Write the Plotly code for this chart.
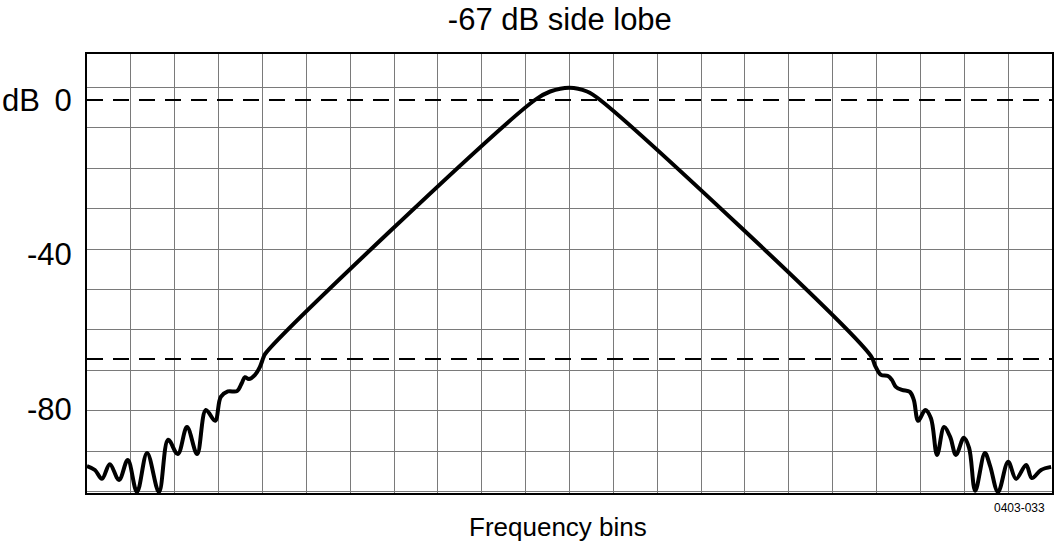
import plotly.graph_objects as go

# Frequency bins (x) and level in dB (y)
bins = [-11.0, -10.82, -10.66, -10.48, -10.27, -10.07, -9.86, -9.63, -9.36, -9.15,
        -8.93, -8.72, -8.49, -8.29, -8.08, -7.95, -7.79, -7.58, -7.47, -7.40,
        -7.31, -7.17, -7.06, -6.98, -6.94,
        -0.79, -0.44, 0.0, 0.40, 0.70,
        6.87, 6.97, 7.10, 7.26, 7.35, 7.44, 7.58, 7.76, 7.85, 7.95,
        8.11, 8.24, 8.38, 8.54, 8.68, 8.81, 8.99, 9.11, 9.25, 9.47,
        9.59, 9.77, 10.00, 10.18, 10.41, 10.54, 10.75, 10.98]
level_db = [-94.7, -95.7, -98.0, -94.2, -98.3, -93.1, -101.4, -91.3, -101.4, -87.9,
            -91.6, -84.6, -91.6, -80.2, -83.0, -76.8, -75.4, -75.3, -73.2, -71.7,
            -72.2, -71.1, -69.1, -66.7, -65.7,
            0.0, 2.2, 3.2, 2.2, 0.0,
            -66.2, -68.8, -71.1, -71.4, -72.4, -74.2, -75.0, -75.5, -77.6, -83.0,
            -80.2, -82.3, -91.8, -84.6, -87.2, -91.8, -87.4, -90.0, -101.1, -91.3,
            -94.7, -101.4, -93.6, -98.0, -94.4, -97.8, -95.7, -94.9]

ref_levels = [0, -67]          # dashed reference lines (dB)
tick_vals = [0, -40, -80]
tick_text = ["0", "-40", "-80"]

FONT = "Liberation Sans, Arial, sans-serif"

fig = go.Figure()
fig.add_trace(go.Scatter(
    x=bins, y=level_db, mode="lines",
    line=dict(color="black", width=4, shape="spline", smoothing=1.0),
    hoverinfo="skip", showlegend=False))

for lv in ref_levels:
    fig.add_shape(type="line", xref="paper", x0=0, x1=1, yref="y", y0=lv, y1=lv,
                  line=dict(color="black", width=2, dash="16px,10px"), layer="above")

fig.update_layout(
    width=1054, height=552,
    margin=dict(l=87, r=2, t=54, b=59, autoexpand=False),
    paper_bgcolor="white", plot_bgcolor="white",
    font=dict(family=FONT, color="black"),
    title=dict(text="-67 dB side lobe", xref="paper", x=0.49, xanchor="center",
               yref="container", y=0.966, yanchor="middle", automargin=False,
               font=dict(size=31, family=FONT, color="black")),
    xaxis=dict(range=[-11, 11], dtick=1, tick0=0, showticklabels=False,
               showgrid=True, gridcolor="#7a7a7a", gridwidth=1, zeroline=False,
               showline=True, linecolor="black", linewidth=2, mirror=True, ticks="",
               automargin=False),
    yaxis=dict(range=[-101.66, 11.9], tickmode="array", tickvals=tick_vals,
               ticktext=tick_text, showgrid=False, zeroline=False,
               tickfont=dict(size=31, family=FONT, color="black"),
               ticks="", ticklabelstandoff=7, automargin=False,
               showline=True, linecolor="black", linewidth=2, mirror=True,
               minor=dict(tick0=-90.8, dtick=10.45, showgrid=True,
                          gridcolor="#7a7a7a", gridwidth=1, ticks="")),
    annotations=[
        dict(text="dB", xref="paper", x=-0.09, xanchor="left", yref="y", y=0,
             yanchor="middle", showarrow=False, font=dict(size=31, family=FONT)),
        dict(text="Frequency bins", xref="paper", x=0.488, xanchor="center",
             yref="paper", y=-0.077, yanchor="middle", showarrow=False,
             font=dict(size=26, family=FONT)),
        dict(text="0403-033", xref="paper", x=0.995, xanchor="right",
             yref="paper", y=-0.034, yanchor="middle", showarrow=False,
             font=dict(size=12, family=FONT)),
    ],
)

fig.write_html(
    "out.html",
    config={"displayModeBar": False},
    post_script="document.body.style.margin='0';document.body.style.overflow='hidden';",
)
